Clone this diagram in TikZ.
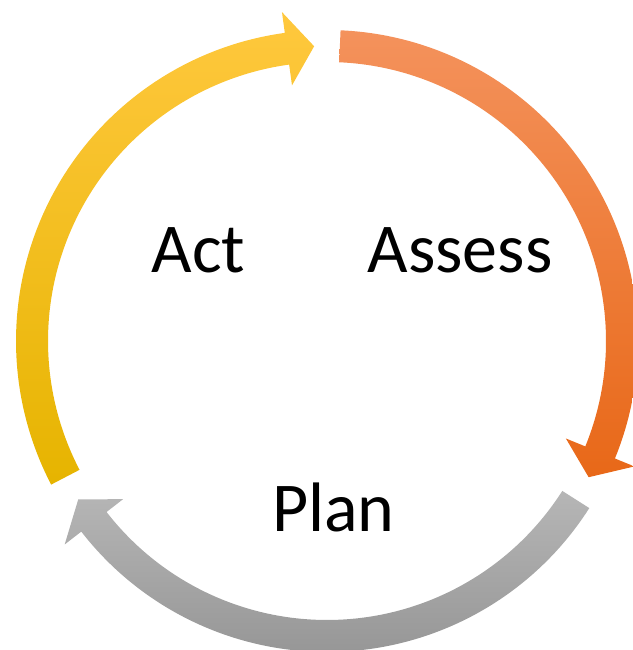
\documentclass[tikz,border=0pt]{standalone}
\usepackage{fontspec}
\setmainfont{Carlito}

\definecolor{orangetop}{RGB}{244,146,92}
\definecolor{orangebot}{RGB}{232,104,24}
\definecolor{graytop}{RGB}{182,182,182}
\definecolor{graybot}{RGB}{150,150,150}
\definecolor{goldtop}{RGB}{255,200,62}
\definecolor{goldmid}{RGB}{255,192,0}
\definecolor{goldbot}{RGB}{230,180,0}

% #1 = shading, #2 = start angle, #3 = head base angle, #4 = tip angle
\newcommand{\cyclearrow}[4]{%
  \shade[#1]
    (#2:311pt) arc[start angle=#2,end angle=#3,radius=311pt]
    -- (#3:332pt) -- (#4:295pt) -- (#3:258pt) -- (#3:279pt)
    arc[start angle=#3,end angle=#2,radius=279pt] -- cycle;}

\begin{document}
\begin{tikzpicture}[every node/.style={font=\fontsize{70}{84}\selectfont,anchor=base,inner sep=0pt}]
  \useasboundingbox (0pt,0pt) rectangle (632pt,650pt);
  \begin{scope}[shift={(327pt,309pt)}]
    \cyclearrow{top color=orangetop,bottom color=orangebot}{87.5}{-22.2}{-27.5}
    \cyclearrow{top color=graytop,bottom color=graybot}{-32.5}{-142.2}{-147.5}
    \cyclearrow{top color=goldtop,middle color=goldmid,bottom color=goldbot}{207.5}{97.8}{92.5}
  \end{scope}
  \node (act)    at (198.5pt,377pt) {Act};
  \node (assess) at (460pt,377pt)   {Assess};
  \node (plan)   at (333.5pt,118pt) {Plan};
\end{tikzpicture}
\end{document}
